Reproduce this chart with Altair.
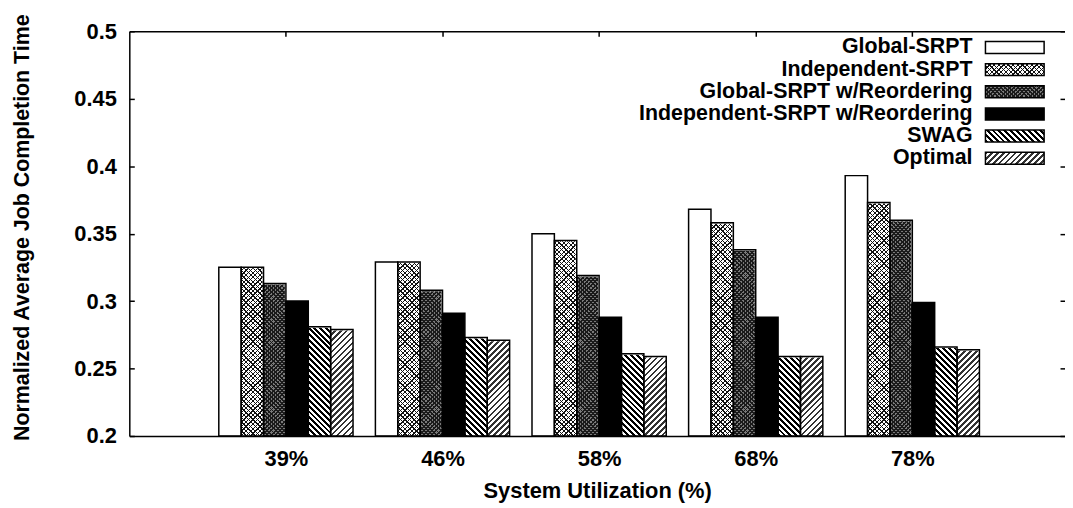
import json
import altair as alt
import pandas as pd

# ---------------- data ----------------
utilization = ["39%", "46%", "58%", "68%", "78%"]
series = [
    "Global-SRPT",
    "Independent-SRPT",
    "Global-SRPT w/Reordering",
    "Independent-SRPT w/Reordering",
    "SWAG",
    "Optimal",
]
global_srpt = [0.325, 0.329, 0.350, 0.368, 0.393]
independent_srpt = [0.325, 0.329, 0.345, 0.358, 0.373]
global_reorder = [0.313, 0.308, 0.319, 0.338, 0.360]
independent_reorder = [0.300, 0.291, 0.288, 0.288, 0.299]
swag = [0.281, 0.273, 0.261, 0.259, 0.266]
optimal = [0.279, 0.271, 0.259, 0.259, 0.264]
y_ticks = [0.2, 0.25, 0.3, 0.35, 0.4, 0.45, 0.5]

# ---------------- layout / style ----------------
W, H = 941, 407
X_DOMAIN = [-1, 4.975]
Y_DOMAIN = [0.2, 0.5]
FONT = "Liberation Sans"
BAR_PX = W / (X_DOMAIN[1] - X_DOMAIN[0]) / 7.0

values_by_series = [global_srpt, independent_srpt, global_reorder,
                    independent_reorder, swag, optimal]
rows = []
for s, (name, vals) in enumerate(zip(series, values_by_series)):
    for g, v in enumerate(vals):
        rows.append({"g": g, "s": s, "series": name, "util": utilization[g], "value": v})
bars_df = pd.DataFrame(rows)
legend_df = pd.DataFrame({"series": series, "s": list(range(len(series)))})
group_idx = list(range(len(utilization)))


def stripes(w, h, period, duty, line, bg, direction):
    """Diagonal stripe fill as a linear gradient in the rect's bounding box."""
    k = (w + h) / (w * w + h * h)
    n = max(1, int(round((w + h) / period)))
    stops = []
    for i in range(n):
        a = round(i / n, 6)
        b = round((i + duty) / n, 6)
        c = round((i + 1) / n, 6)
        stops += [
            {"color": line, "offset": a},
            {"color": line, "offset": b},
            {"color": bg, "offset": b},
            {"color": bg, "offset": c},
        ]
    if direction == "/":
        return {"gradient": "linear", "stops": stops,
                "x1": 0, "y1": 0, "x2": round(k * w, 6), "y2": round(k * h, 6)}
    return {"gradient": "linear", "stops": stops,
            "x1": 0, "y1": 1, "x2": round(k * w, 6), "y2": round(1 - k * h, 6)}


CLEAR = "rgba(0,0,0,0)"
# (series index, direction, period, duty, line colour, background)
PATTERNS = [
    (1, "/", 4.6, 0.28, "#111111", "#ffffff"),
    (1, "\\", 4.6, 0.28, "#111111", CLEAR),
    (2, "/", 4.2, 0.45, "#1a1a1a", "#7a7a7a"),
    (2, "\\", 4.2, 0.45, "#1a1a1a", CLEAR),
    (4, "\\", 6.0, 0.5, "#000000", "#ffffff"),
    (5, "/", 6.0, 0.45, "#333333", "#ffffff"),
]
solid_fills = ["#ffffff", CLEAR, CLEAR, "#000000", CLEAR, CLEAR]

xs = alt.Scale(domain=X_DOMAIN, nice=False, zero=False)
ys = alt.Scale(domain=Y_DOMAIN, nice=False, zero=False)

x_axis = alt.Axis(
    orient="bottom", values=group_idx,
    labelExpr=json.dumps(utilization) + "[datum.value]",
    ticks=False, tickSize=0, grid=False, domain=True,
    domainColor="black", domainWidth=1.5,
    labelFont=FONT, labelFontSize=22, labelFontWeight="bold", labelColor="black",
    labelPadding=30, labelBaseline="alphabetic", labelFlush=False, labelOverlap=False,
    title="System Utilization (%)", titleFont=FONT, titleFontSize=22,
    titleFontWeight="bold", titleColor="black", titleY=62, titleBaseline="alphabetic",
    zindex=1,
)
y_axis = alt.Axis(
    orient="left", values=y_ticks, format="~g",
    ticks=False, tickSize=0, grid=False, domain=True,
    domainColor="black", domainWidth=1.5,
    labelFont=FONT, labelFontSize=22, labelFontWeight="bold", labelColor="black",
    labelPadding=13, labelFlush=False, labelOverlap=False,
    title="Normalized Average Job Completion Time", titleFont=FONT, titleFontSize=21.5,
    titleFontWeight="bold", titleColor="black", titleX=-107, titleY=197,
    titleAngle=270, titleAlign="center", titleBaseline="middle",
    zindex=1,
)

base = alt.Chart(bars_df).transform_calculate(
    x0="datum.g + (datum.s - 3) / 7",
    x1="datum.g + (datum.s - 2) / 7",
    lo="0.2",
    hi="0.5",
)
X = alt.X("x0:Q", scale=xs, axis=x_axis)

bar_layers = []
for s, direction, period, duty, line, bg in PATTERNS:
    grad = stripes(BAR_PX, H, period, duty, line, bg, direction)
    bar_layers.append(
        base.transform_filter(alt.datum.s == s)
        .mark_rect(fill=grad, strokeWidth=0)
        .encode(x=X, x2="x1:Q", y=alt.Y("hi:Q", scale=ys, axis=y_axis), y2="lo:Q")
    )
# white cover above each bar (hides the hatch columns above the bar tops)
bar_layers.append(
    base.mark_rect(fill="white", stroke="white", strokeWidth=2)
    .encode(x=X, x2="x1:Q", y=alt.Y("hi:Q", scale=ys, axis=y_axis), y2="value:Q")
)
# solid fills + outlines
bar_layers.append(
    base.mark_rect(stroke="black", strokeWidth=1.5)
    .encode(
        x=X, x2="x1:Q",
        y=alt.Y("value:Q", scale=ys, axis=y_axis), y2="lo:Q",
        fill=alt.Color("series:N", scale=alt.Scale(domain=series, range=solid_fills), legend=None),
    )
)
bars_group = alt.layer(*bar_layers)

# frame: top border and inward left ticks
frame_b = alt.Chart(bars_df).mark_point(opacity=0).encode(
    x=alt.X("g:Q", scale=xs, axis=alt.Axis(
        orient="top", domain=True, domainColor="black", domainWidth=1.5,
        ticks=False, tickSize=0, labels=False, grid=False, title=None, zindex=1)),
    y=alt.Y("value:Q", scale=ys, axis=alt.Axis(
        orient="left", offset=-5, values=y_ticks, ticks=True, tickSize=5,
        tickColor="black", tickWidth=1.5, labels=False, domain=False,
        grid=False, title=None, zindex=1)),
)
# inward top ticks at group centres and right ticks
frame_c = alt.Chart(bars_df).mark_point(opacity=0).encode(
    x=alt.X("g:Q", scale=xs, axis=alt.Axis(
        orient="top", offset=-5, values=group_idx, ticks=True, tickSize=5,
        tickColor="black", tickWidth=1.5, labels=False, domain=False,
        grid=False, title=None, zindex=1)),
    y=alt.Y("value:Q", scale=ys, axis=alt.Axis(
        orient="right", offset=-5, values=y_ticks, ticks=True, tickSize=5,
        tickColor="black", tickWidth=1.5, labels=False, domain=False,
        grid=False, title=None, zindex=1)),
)

# legend drawn inside the plot, top right
LEG_TEXT_X = 848
LEG_SW_X0, LEG_SW_X1 = 861, 920
ly_scale = alt.Scale(type="band", domain=series, range=[5.16, 138.8],
                     paddingInner=0.46, paddingOuter=0.23)
LY = alt.Y("series:N", scale=ly_scale, axis=None)
sw_h = 133.64 / 6.0 * 0.54
leg_base = alt.Chart(legend_df)
leg_layers = [
    leg_base.mark_text(align="right", baseline="middle", font=FONT, fontSize=21.5,
                       fontWeight="bold", color="black")
    .encode(x=alt.value(LEG_TEXT_X), y=LY, text="series:N")
]
for s, direction, period, duty, line, bg in PATTERNS:
    grad = stripes(LEG_SW_X1 - LEG_SW_X0, sw_h, period, duty, line, bg, direction)
    leg_layers.append(
        leg_base.transform_filter(alt.datum.s == s)
        .mark_rect(fill=grad, strokeWidth=0)
        .encode(x=alt.value(LEG_SW_X0), x2=alt.value(LEG_SW_X1), y=LY)
    )
leg_layers.append(
    leg_base.mark_rect(stroke="black", strokeWidth=1.5)
    .encode(
        x=alt.value(LEG_SW_X0), x2=alt.value(LEG_SW_X1), y=LY,
        fill=alt.Color("series:N", scale=alt.Scale(domain=series, range=solid_fills), legend=None),
    )
)
legend_group = alt.layer(*leg_layers)

chart = (
    alt.layer(bars_group, frame_b, frame_c, legend_group)
    .resolve_scale(x="independent", y="independent", fill="independent")
    .properties(
        width=W, height=H,
        autosize=alt.AutoSizeParams(type="none"),
        padding={"left": 122, "top": 22, "right": 0, "bottom": 70},
        background="white",
    )
    .configure_view(stroke=None)
)

chart.save("out.html", embed_options={"renderer": "svg", "actions": False})
